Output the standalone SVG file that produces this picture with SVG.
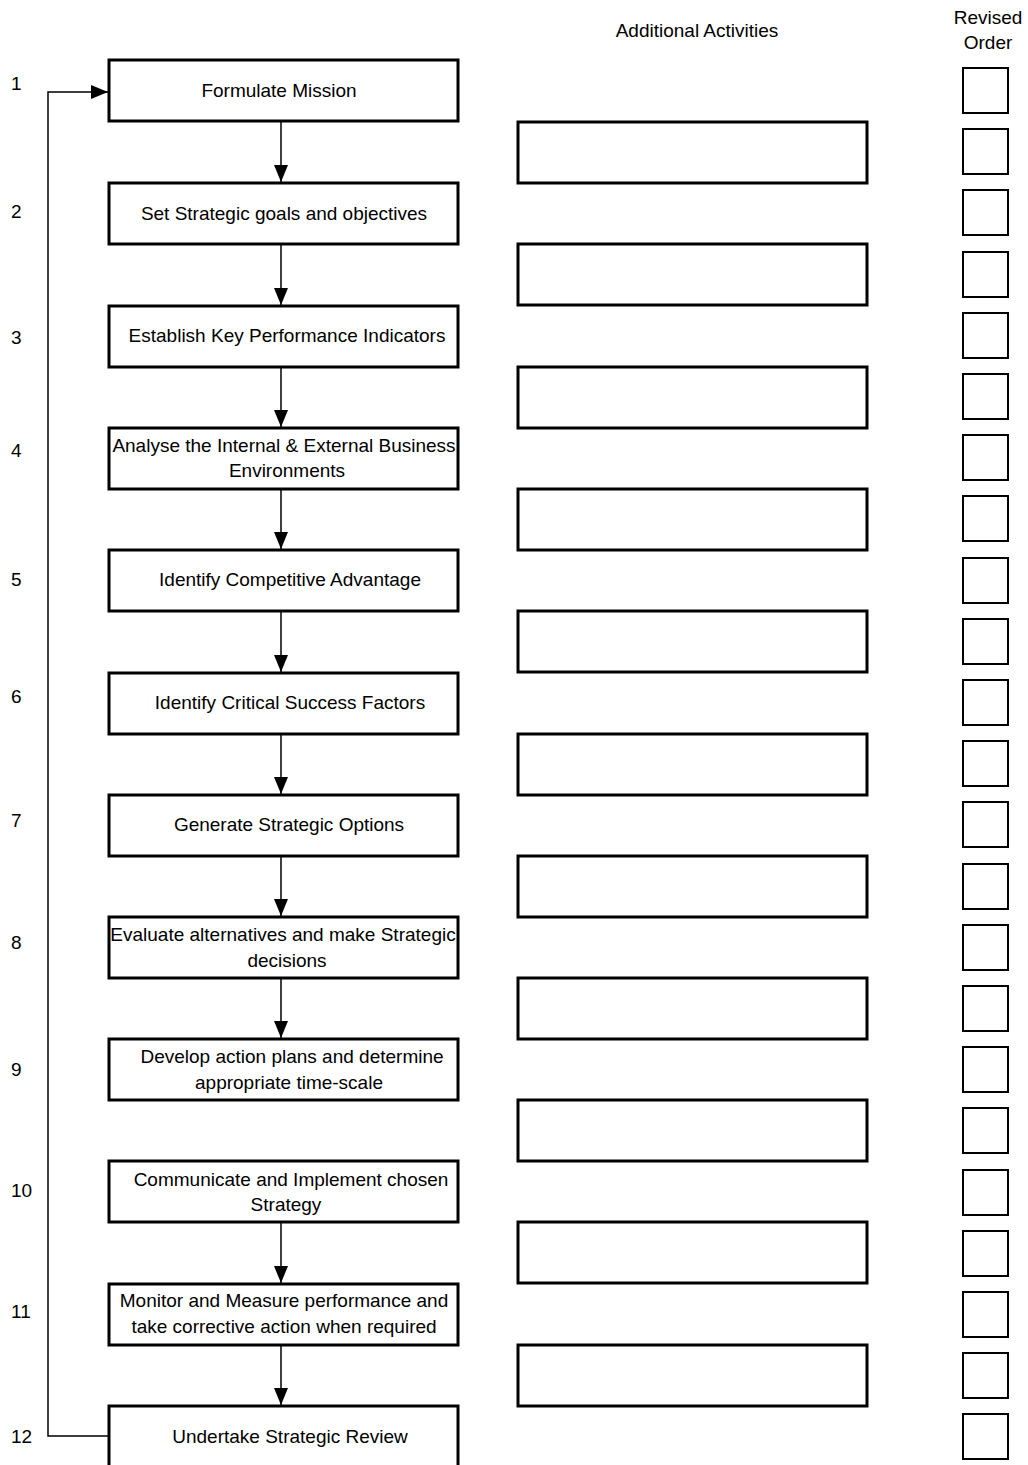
<svg xmlns="http://www.w3.org/2000/svg" width="1028" height="1465" viewBox="0 0 1028 1465">
<style>
text{font-family:"Liberation Sans",Arial,sans-serif;font-size:19px;fill:#000}
.c{text-anchor:middle}
.box{fill:#fff;stroke:#000;stroke-width:3}
.sq{fill:#fff;stroke:#000;stroke-width:2}
.ln{fill:none;stroke:#000;stroke-width:1.5}
</style>
<defs>
<marker id="ah" markerWidth="17" markerHeight="14" refX="17" refY="7" orient="auto" markerUnits="userSpaceOnUse">
<path d="M0,0 L17,7 L0,14 Z" fill="#000"/>
</marker>
</defs>
<rect width="1028" height="1465" fill="#fff"/>
<g id="headers">
<text class="c" x="697" y="37">Additional Activities</text>
<text class="c" x="988" y="24">Revised</text>
<text class="c" x="988" y="49">Order</text>
</g>
<g id="numbers">
<text x="11" y="90">1</text>
<text x="11" y="218">2</text>
<text x="11" y="344">3</text>
<text x="11" y="457">4</text>
<text x="11" y="586">5</text>
<text x="11" y="703">6</text>
<text x="11" y="827">7</text>
<text x="11" y="949">8</text>
<text x="11" y="1076">9</text>
<text x="11" y="1197">10</text>
<text x="11" y="1318">11</text>
<text x="11" y="1443">12</text>
</g>
<g id="connectors">
<line class="ln" x1="281" y1="121" x2="281" y2="182" marker-end="url(#ah)"/>
<line class="ln" x1="281" y1="244" x2="281" y2="305" marker-end="url(#ah)"/>
<line class="ln" x1="281" y1="367" x2="281" y2="427" marker-end="url(#ah)"/>
<line class="ln" x1="281" y1="489" x2="281" y2="549" marker-end="url(#ah)"/>
<line class="ln" x1="281" y1="611" x2="281" y2="672" marker-end="url(#ah)"/>
<line class="ln" x1="281" y1="734" x2="281" y2="794" marker-end="url(#ah)"/>
<line class="ln" x1="281" y1="856" x2="281" y2="916" marker-end="url(#ah)"/>
<line class="ln" x1="281" y1="978" x2="281" y2="1038" marker-end="url(#ah)"/>
<line class="ln" x1="281" y1="1222" x2="281" y2="1283" marker-end="url(#ah)"/>
<line class="ln" x1="281" y1="1345" x2="281" y2="1405" marker-end="url(#ah)"/>
<polyline class="ln" points="109,1436 48,1436 48,92 108,92" marker-end="url(#ah)"/>
</g>
<g id="n1"><rect class="box" x="109" y="60" width="349" height="61"/><text class="c" x="279" y="97">Formulate Mission</text></g>
<g id="n2"><rect class="box" x="109" y="183" width="349" height="61"/><text class="c" x="284" y="220">Set Strategic goals and objectives</text></g>
<g id="n3"><rect class="box" x="109" y="306" width="349" height="61"/><text class="c" x="287" y="342">Establish Key Performance Indicators</text></g>
<g id="n4"><rect class="box" x="109" y="428" width="349" height="61"/><text class="c" x="284" y="452">Analyse the Internal &amp; External Business</text><text class="c" x="287" y="477">Environments</text></g>
<g id="n5"><rect class="box" x="109" y="550" width="349" height="61"/><text class="c" x="290" y="586">Identify Competitive Advantage</text></g>
<g id="n6"><rect class="box" x="109" y="673" width="349" height="61"/><text class="c" x="290" y="709">Identify Critical Success Factors</text></g>
<g id="n7"><rect class="box" x="109" y="795" width="349" height="61"/><text class="c" x="289" y="831">Generate Strategic Options</text></g>
<g id="n8"><rect class="box" x="109" y="917" width="349" height="61"/><text class="c" x="283" y="941">Evaluate alternatives and make Strategic</text><text class="c" x="287" y="967">decisions</text></g>
<g id="n9"><rect class="box" x="109" y="1039" width="349" height="61"/><text class="c" x="292" y="1063">Develop action plans and determine</text><text class="c" x="289" y="1089">appropriate time-scale</text></g>
<g id="n10"><rect class="box" x="109" y="1161" width="349" height="61"/><text class="c" x="291" y="1186">Communicate and Implement chosen</text><text class="c" x="286" y="1211">Strategy</text></g>
<g id="n11"><rect class="box" x="109" y="1284" width="349" height="61"/><text class="c" x="284" y="1307">Monitor and Measure performance and</text><text class="c" x="284" y="1333">take corrective action when required</text></g>
<g id="n12"><rect class="box" x="109" y="1406" width="349" height="64"/><text class="c" x="290" y="1443">Undertake Strategic Review</text></g>
<g id="additional">
<rect class="box" x="518" y="122" width="349" height="61"/>
<rect class="box" x="518" y="244" width="349" height="61"/>
<rect class="box" x="518" y="367" width="349" height="61"/>
<rect class="box" x="518" y="489" width="349" height="61"/>
<rect class="box" x="518" y="611" width="349" height="61"/>
<rect class="box" x="518" y="734" width="349" height="61"/>
<rect class="box" x="518" y="856" width="349" height="61"/>
<rect class="box" x="518" y="978" width="349" height="61"/>
<rect class="box" x="518" y="1100" width="349" height="61"/>
<rect class="box" x="518" y="1222" width="349" height="61"/>
<rect class="box" x="518" y="1345" width="349" height="61"/>
</g>
<g id="revised">
<rect class="sq" x="963" y="68" width="45" height="45"/>
<rect class="sq" x="963" y="129" width="45" height="45"/>
<rect class="sq" x="963" y="190" width="45" height="45"/>
<rect class="sq" x="963" y="252" width="45" height="45"/>
<rect class="sq" x="963" y="313" width="45" height="45"/>
<rect class="sq" x="963" y="374" width="45" height="45"/>
<rect class="sq" x="963" y="435" width="45" height="45"/>
<rect class="sq" x="963" y="496" width="45" height="45"/>
<rect class="sq" x="963" y="558" width="45" height="45"/>
<rect class="sq" x="963" y="619" width="45" height="45"/>
<rect class="sq" x="963" y="680" width="45" height="45"/>
<rect class="sq" x="963" y="741" width="45" height="45"/>
<rect class="sq" x="963" y="802" width="45" height="45"/>
<rect class="sq" x="963" y="864" width="45" height="45"/>
<rect class="sq" x="963" y="925" width="45" height="45"/>
<rect class="sq" x="963" y="986" width="45" height="45"/>
<rect class="sq" x="963" y="1047" width="45" height="45"/>
<rect class="sq" x="963" y="1108" width="45" height="45"/>
<rect class="sq" x="963" y="1170" width="45" height="45"/>
<rect class="sq" x="963" y="1231" width="45" height="45"/>
<rect class="sq" x="963" y="1292" width="45" height="45"/>
<rect class="sq" x="963" y="1353" width="45" height="45"/>
<rect class="sq" x="963" y="1414" width="45" height="45"/>
</g>
</svg>
